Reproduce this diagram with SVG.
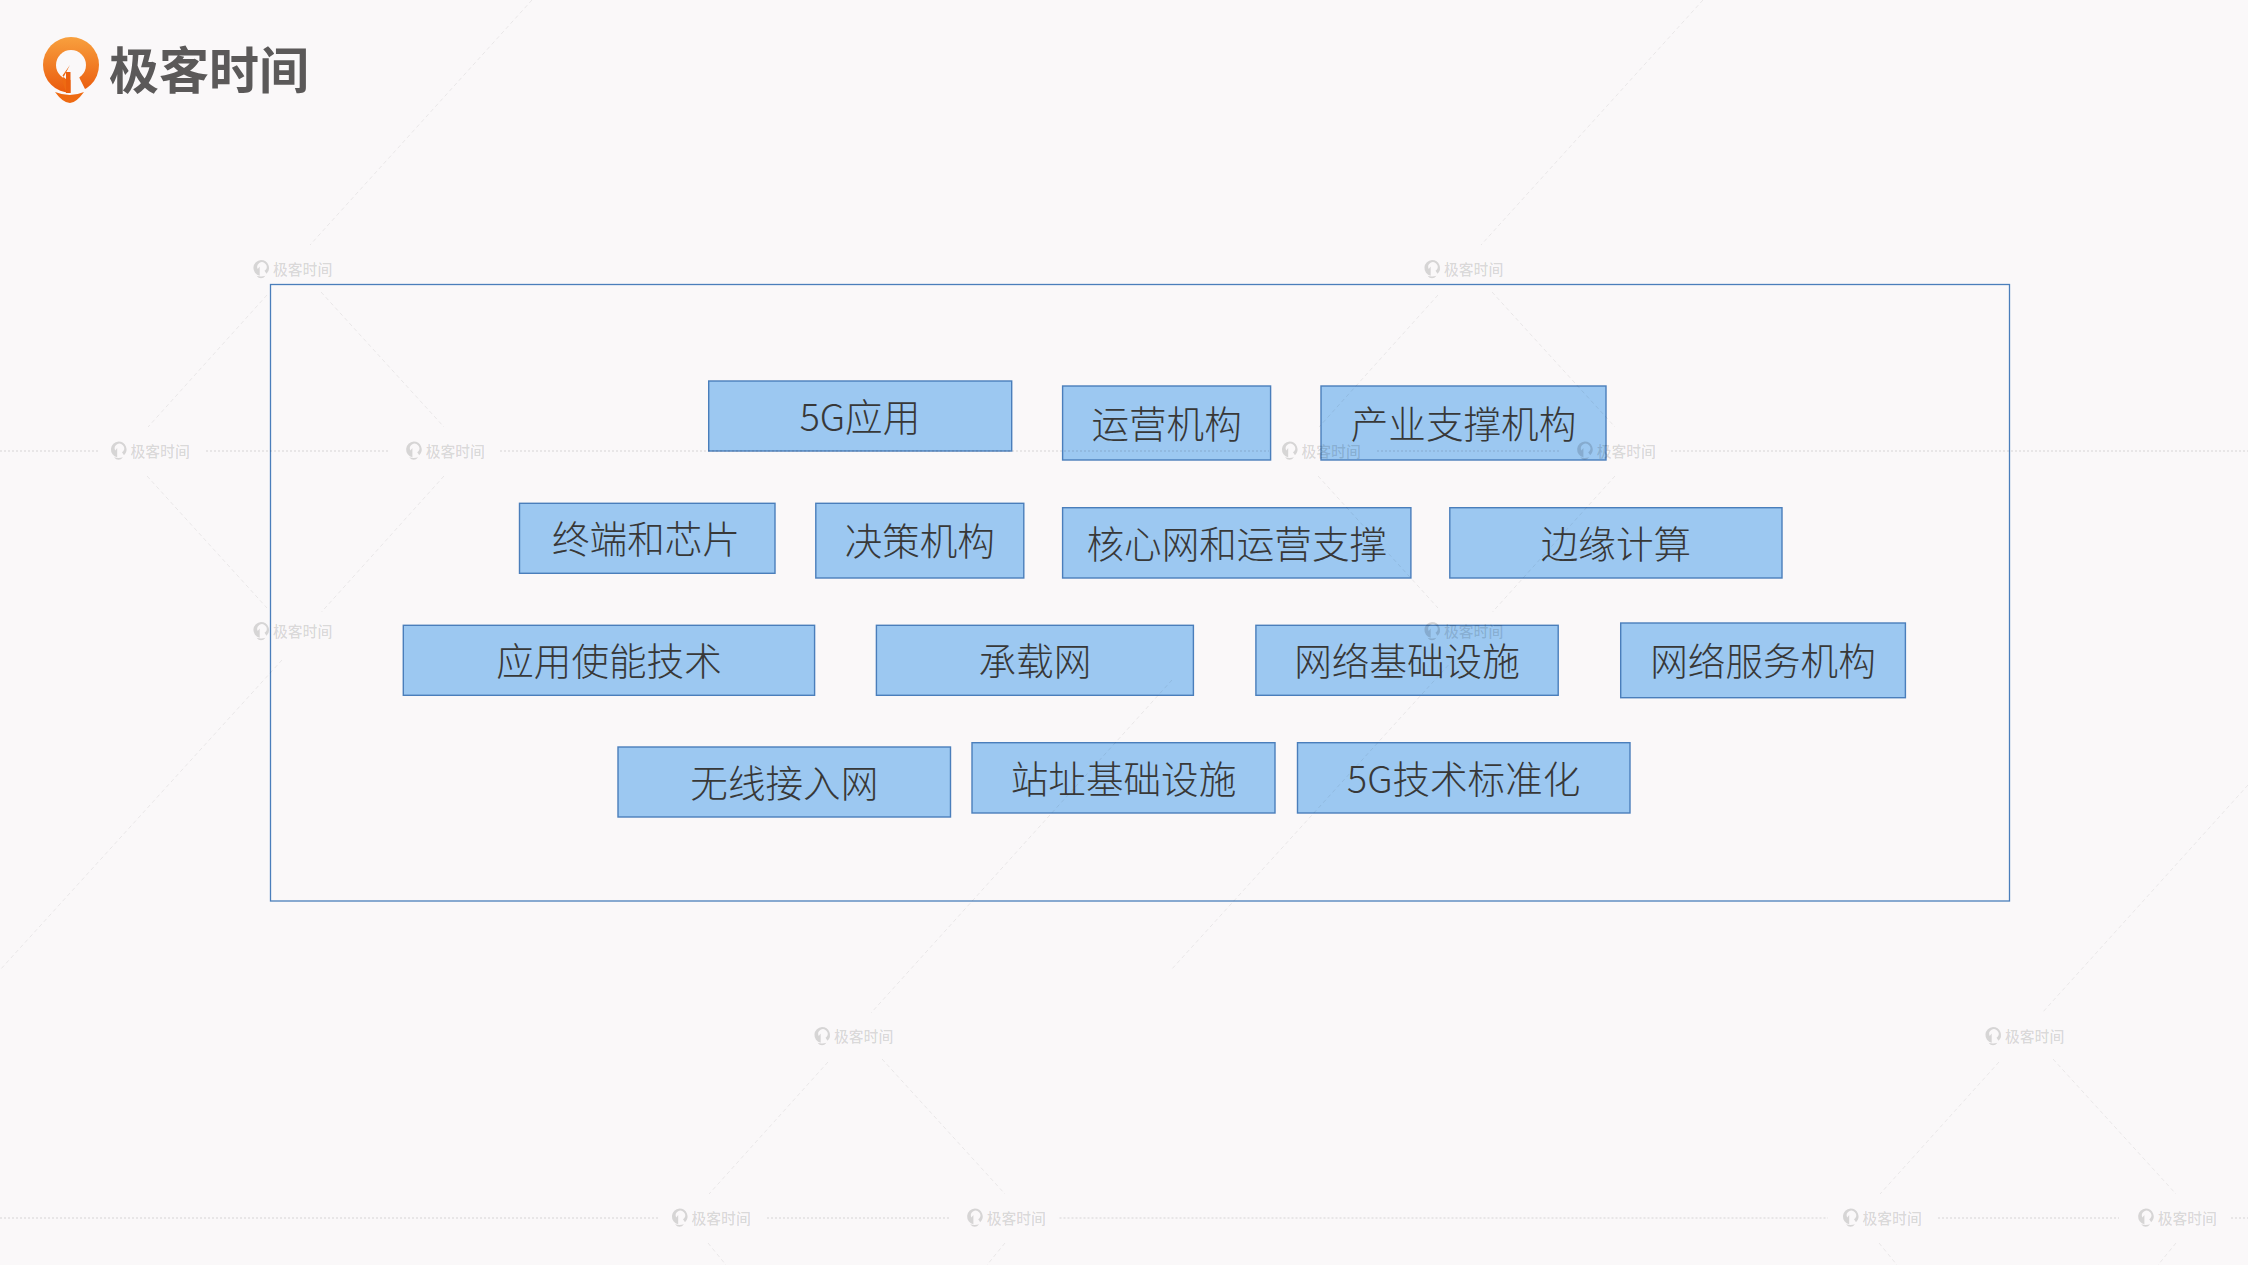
<svg xmlns="http://www.w3.org/2000/svg" width="2248" height="1265" viewBox="0 0 2248 1265">
<style>
.n{fill:#9cc8f1;stroke:#4a7ebb;stroke-width:1.400}
.t{font-family:"Noto Sans CJK SC","Noto Sans",sans-serif;font-size:37.600px;font-weight:300;fill:#383838;text-anchor:middle}
.w{font-family:"Noto Sans CJK SC","Noto Sans",sans-serif;font-size:14.800px;font-weight:500;fill:#000;fill-opacity:.14}
.d{stroke:#000;stroke-opacity:.07;stroke-width:1;stroke-dasharray:4 3;fill:none}
.h{stroke:#000;stroke-opacity:.07;stroke-width:2;stroke-dasharray:2 2;fill:none}
</style>
<defs>
<linearGradient id="og" x1="0" y1="0" x2="0" y2="1"><stop offset="0" stop-color="#f8a03e"/><stop offset="1" stop-color="#ea5a0c"/></linearGradient>
<g id="wi"><path d="M8 0a8 8 0 0 1 5.500 13.800l-2-3 1.200-1a4.700 4.700 0 1 0-8 -.8l2-2.500V15.800A8 8 0 0 1 8 0z" fill="#000" fill-opacity=".14"/><path d="M3.500 15.800q4.500 1.500 9 0q-2 2.500-4.500 2.500t-4.500-2.500z" fill="#000" fill-opacity=".14"/></g>
</defs>
<rect id="background" width="2248" height="1265" fill="#faf8f9"/>
<g id="logo">
<circle cx="71" cy="65" r="28" fill="url(#og)"/>
<circle cx="71" cy="65" r="15" fill="#faf8f9"/>
<polygon points="70.500,64 70.500,95 88,95 84.500,88 79,77 84,70" fill="#faf8f9"/>
<polygon points="70,65 62.500,75.500 70,84 70,92 66,92 62,80" fill="#ee6a12"/>
<rect x="66" y="72" width="4.500" height="21" fill="#ea5f0e"/>
<path d="M55 92Q70 98 84 92Q76 103 70 103Q63 103 55 92Z" fill="#ee6a12"/>
<text x="109" y="89" font-family="'Noto Sans CJK SC',sans-serif" font-size="50" font-weight="700" fill="#5b5959" textLength="200" lengthAdjust="spacingAndGlyphs">极客时间</text>
</g>
<rect id="frame" x="270.500" y="284.500" width="1739" height="616.500" fill="none" stroke="#4a7ebb" stroke-width="1.300"/>
<g id="n1"><rect class="n" x="708.700" y="381" width="303" height="70"/><text class="t" x="860" y="431">5G应用</text></g>
<g id="n2"><rect class="n" x="1062.600" y="386" width="208" height="74"/><text class="t" x="1166.600" y="438">运营机构</text></g>
<g id="n3"><rect class="n" x="1321" y="386" width="285" height="74"/><text class="t" x="1463.500" y="438">产业支撑机构</text></g>
<g id="n4"><rect class="n" x="519.500" y="503.300" width="255.500" height="70"/><text class="t" x="646" y="553">终端和芯片</text></g>
<g id="n5"><rect class="n" x="815.800" y="503.300" width="208" height="74.700"/><text class="t" x="919.800" y="555">决策机构</text></g>
<g id="n6"><rect class="n" x="1062.600" y="507.700" width="348.300" height="70.300"/><text class="t" x="1236.800" y="557.500">核心网和运营支撑</text></g>
<g id="n7"><rect class="n" x="1449.800" y="507.700" width="332.200" height="70.300"/><text class="t" x="1615.900" y="557.500">边缘计算</text></g>
<g id="n8"><rect class="n" x="403.300" y="625.300" width="411.300" height="70"/><text class="t" x="609" y="675">应用使能技术</text></g>
<g id="n9"><rect class="n" x="876.400" y="625.300" width="317" height="70"/><text class="t" x="1034.900" y="675">承载网</text></g>
<g id="n10"><rect class="n" x="1255.900" y="625.300" width="302.300" height="70"/><text class="t" x="1407" y="675">网络基础设施</text></g>
<g id="n11"><rect class="n" x="1620.700" y="623" width="284.700" height="74.700"/><text class="t" x="1763" y="675">网络服务机构</text></g>
<g id="n12"><rect class="n" x="618" y="747" width="332.500" height="70"/><text class="t" x="784.300" y="797">无线接入网</text></g>
<g id="n13"><rect class="n" x="972" y="742.700" width="303" height="70.300"/><text class="t" x="1123.500" y="793">站址基础设施</text></g>
<g id="n14"><rect class="n" x="1297.500" y="742.700" width="332.500" height="70.300"/><text class="t" x="1463.700" y="793">5G技术标准化</text></g>
<g id="watermark-lines">
<path class="h" d="M0 451H98M206 451H388.500M500 451H1269M1377 451H1560M1671 451H2248M0 1218H658M767 1218H949M1059.500 1218H1828M1938 1218H2119M2231 1218H2248"/>
<path class="d" d="M532 0L310 245M267 295L148 427M321 292L444 427M147 476L267 608M444 476L321.500 612M282 660L0 970"/>
<path class="d" d="M1703 0L1481 245M1438 295L1319 427M1492 292L1615 427M1318 476L1438 608M1615 476L1492.500 612M1453 660L1171 970"/>
<path class="d" d="M1172 680L871 1013M828 1062L709 1194M882 1059L1005 1194M708 1243L726 1265M1005 1243L987 1265"/>
<path class="d" d="M2248 785L2042 1013M1999 1062L1880 1194M2053 1059L2176 1194M1879 1243L1897 1265M2176 1243L2158 1265"/>
</g>
<g id="watermarks">
<g id="w1" transform="translate(253 260)"><use href="#wi"/><text class="w" x="20" y="15">极客时间</text></g>
<g id="w2" transform="translate(110.500 441.500)"><use href="#wi"/><text class="w" x="20" y="15">极客时间</text></g>
<g id="w3" transform="translate(405.700 441.500)"><use href="#wi"/><text class="w" x="20" y="15">极客时间</text></g>
<g id="w4" transform="translate(253 622)"><use href="#wi"/><text class="w" x="20" y="15">极客时间</text></g>
<g id="w5" transform="translate(1424 260)"><use href="#wi"/><text class="w" x="20" y="15">极客时间</text></g>
<g id="w6" transform="translate(1281.500 441.500)"><use href="#wi"/><text class="w" x="20" y="15">极客时间</text></g>
<g id="w7" transform="translate(1576.700 441.500)"><use href="#wi"/><text class="w" x="20" y="15">极客时间</text></g>
<g id="w8" transform="translate(1424 622)"><use href="#wi"/><text class="w" x="20" y="15">极客时间</text></g>
<g id="w9" transform="translate(814 1027)"><use href="#wi"/><text class="w" x="20" y="15">极客时间</text></g>
<g id="w10" transform="translate(671.500 1208.500)"><use href="#wi"/><text class="w" x="20" y="15">极客时间</text></g>
<g id="w11" transform="translate(966.700 1208.500)"><use href="#wi"/><text class="w" x="20" y="15">极客时间</text></g>
<g id="w12" transform="translate(1985 1027)"><use href="#wi"/><text class="w" x="20" y="15">极客时间</text></g>
<g id="w13" transform="translate(1842.500 1208.500)"><use href="#wi"/><text class="w" x="20" y="15">极客时间</text></g>
<g id="w14" transform="translate(2137.700 1208.500)"><use href="#wi"/><text class="w" x="20" y="15">极客时间</text></g>
</g>
</svg>
